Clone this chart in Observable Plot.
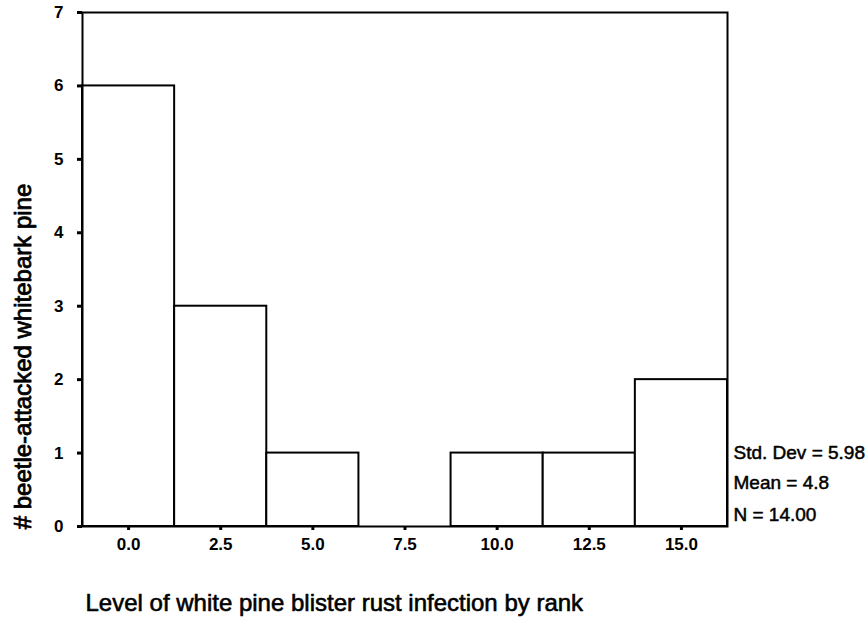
<!DOCTYPE html>
<html>
<head>
<meta charset="utf-8">
<script src="https://cdn.jsdelivr.net/npm/d3@7"></script>
<script src="https://cdn.jsdelivr.net/npm/@observablehq/plot@0.6"></script>
<style>
  html, body { margin: 0; padding: 0; background: #fff; }
  svg { font-family: "Liberation Sans", Arial, sans-serif; }
  g[aria-label$="tick label"] { font-size: 17px; font-weight: bold; }
</style>
</head>
<body>
<div id="chart"></div>
<script>
// Data
const binCenters = [0.0, 2.5, 5.0, 7.5, 10.0, 12.5, 15.0];
const counts = [6, 3, 1, 0, 1, 1, 2];
const binWidth = 2.5;
const xTicks = [0.0, 2.5, 5.0, 7.5, 10.0, 12.5, 15.0];
const yTicks = [0, 1, 2, 3, 4, 5, 6, 7];
const statsLines = ["Std. Dev = 5.98", "Mean = 4.8", "N = 14.00"];
const xTitle = "Level of white pine blister rust infection by rank";
const yTitle = "# beetle-attacked whitebark pine";

const bins = binCenters.map((c, i) => ({x1: c - binWidth / 2, x2: c + binWidth / 2, count: counts[i]}))
  .filter(d => d.count > 0);

const statsOffsets = [-74, -44, -12];

const chart = Plot.plot({
  width: 866,
  height: 618,
  marginLeft: 82,
  marginRight: 139,
  marginTop: 12,
  marginBottom: 92,
  style: {fontFamily: "'Liberation Sans', Arial, sans-serif", background: "white", fontSize: "17px"},
  x: {domain: [-1.25, 16.25], ticks: xTicks, tickFormat: d => d.toFixed(1)},
  y: {domain: [0, 7], ticks: yTicks, tickFormat: d => String(d)},
  marks: [
    Plot.rect(bins, {x1: "x1", x2: "x2", y1: 0, y2: "count", fill: "white", stroke: "black", strokeWidth: 2}),
    Plot.frame({stroke: "black", strokeWidth: 2}),
    Plot.axisX({ticks: xTicks, tickFormat: d => d.toFixed(1), tickSize: 4, strokeWidth: 3, tickPadding: 7, label: null, fill: "black"}),
    Plot.axisY({ticks: yTicks, tickFormat: d => String(d), tickSize: 5, strokeWidth: 3, tickPadding: 14, label: null, fill: "black"}),
    ...statsLines.map((t, i) => Plot.text([t], {
      text: d => d, frameAnchor: "bottom-right", textAnchor: "start", lineAnchor: "middle",
      dx: 6, dy: statsOffsets[i], fontSize: 19, fill: "black", stroke: "black", strokeWidth: 0.5
    })),
    Plot.text([xTitle], {
      text: d => d, frameAnchor: "bottom-left", textAnchor: "start", lineAnchor: "middle",
      dx: 3, dy: 77, fontSize: 24, fill: "black", stroke: "black", strokeWidth: 0.6
    }),
    Plot.text([yTitle], {
      text: d => d, frameAnchor: "left", textAnchor: "middle", lineAnchor: "middle", rotate: -90,
      dx: -59, dy: 87, fontSize: 24, fill: "black", stroke: "black", strokeWidth: 0.8
    })
  ]
});
document.getElementById("chart").appendChild(chart);
</script>
</body>
</html>
